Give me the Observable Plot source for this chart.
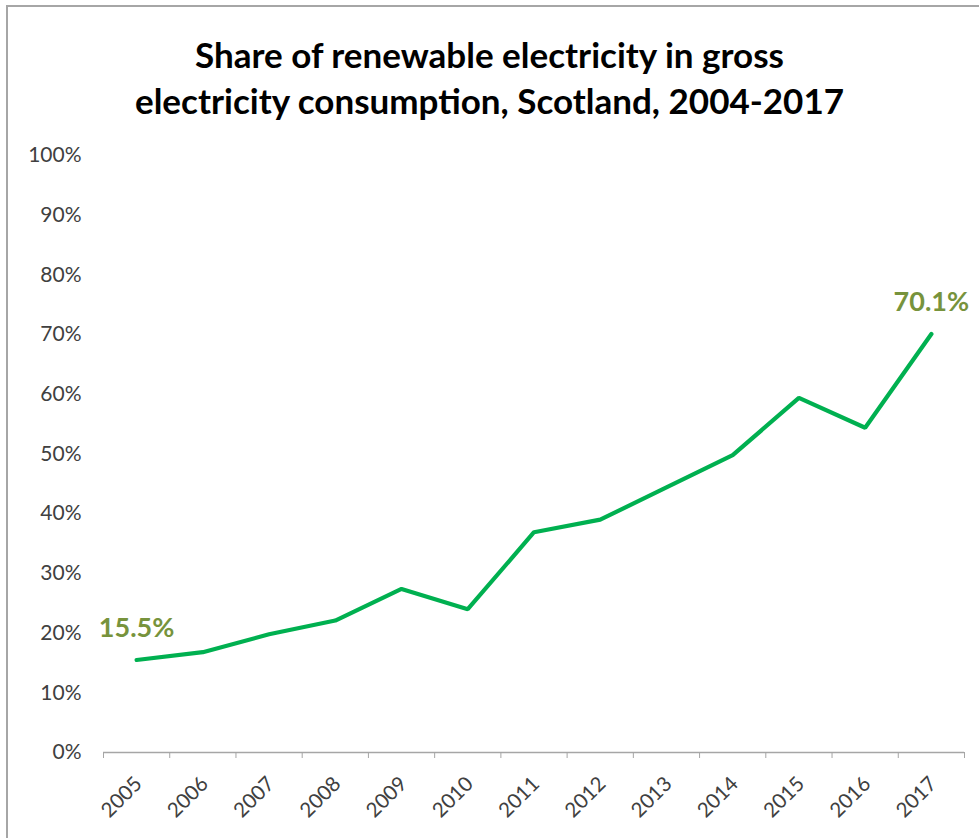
<!DOCTYPE html>
<html>
<head>
<meta charset="utf-8">
<script src="https://cdn.jsdelivr.net/npm/d3@7"></script>
<script src="https://cdn.jsdelivr.net/npm/@observablehq/plot@0.6"></script>
<style>
  html, body { margin: 0; padding: 0; background: #fff; width: 979px; height: 838px; overflow: hidden; }
  #frame { position: absolute; left: 6px; top: 5px; width: 1000px; height: 900px; border-left: 2px solid #a6a6a6; border-top: 2px solid #a6a6a6; }
  #title { position: absolute; left: 0; top: 31px; width: 979px; text-align: center; font-family: Lato, "Open Sans", sans-serif; font-weight: bold; font-size: 35px; line-height: 46px; color: #000; }
  #chart { position: absolute; left: 0; top: 140px; }
</style>
</head>
<body>
<div id="frame"></div>
<div id="title">Share of renewable electricity in gross<br>electricity consumption, Scotland, 2004-2017</div>
<div id="chart"></div>
<script>
const years = [2005, 2006, 2007, 2008, 2009, 2010, 2011, 2012, 2013, 2014, 2015, 2016, 2017];
const shares = [15.5, 16.8, 19.8, 22.1, 27.4, 24.0, 36.9, 39.0, 44.4, 49.8, 59.4, 54.4, 70.1];
const yTicks = [0, 10, 20, 30, 40, 50, 60, 70, 80, 90, 100];

const data = years.map((y, i) => ({year: y, share: shares[i]}));
const boundaries = years.map(y => y - 0.5).concat([years[years.length - 1] + 0.5]);
const labelled = [data[0], data[data.length - 1]];

const chart = Plot.plot({
  width: 979,
  height: 698,
  marginLeft: 103,
  marginRight: 15,
  marginTop: 15,
  marginBottom: 86,
  style: { fontFamily: "Lato, 'Open Sans', sans-serif", background: "transparent", overflow: "visible" },
  x: { type: "linear", domain: [boundaries[0], boundaries[boundaries.length - 1]] },
  y: { domain: [0, 100] },
  marks: [
    Plot.axisY({ ticks: yTicks, tickSize: 0, tickPadding: 22, tickFormat: d => d + "%", fontSize: 21, fill: "#404040", label: null }),
    Plot.ruleY([0], { stroke: "#a6a6a6", strokeWidth: 1.3 }),
    Plot.axisX({ ticks: boundaries, tickSize: 6, tickFormat: () => "", stroke: "#a6a6a6", label: null }),
    Plot.axisX({ ticks: years, tickSize: 0, tickPadding: 28, tickRotate: -45, tickFormat: d => String(d), fontSize: 20.5, fill: "#404040", label: null, dx: 2 }),
    Plot.line(data, { x: "year", y: "share", stroke: "#00B050", strokeWidth: 4.2, strokeLinejoin: "miter", strokeLinecap: "round" }),
    Plot.text(labelled, { x: "year", y: "share", text: d => d.share.toFixed(1) + "%", dy: -32, fontSize: 27, fontWeight: "bold", fill: "#77933C" })
  ]
});
document.getElementById("chart").appendChild(chart);
</script>
</body>
</html>
